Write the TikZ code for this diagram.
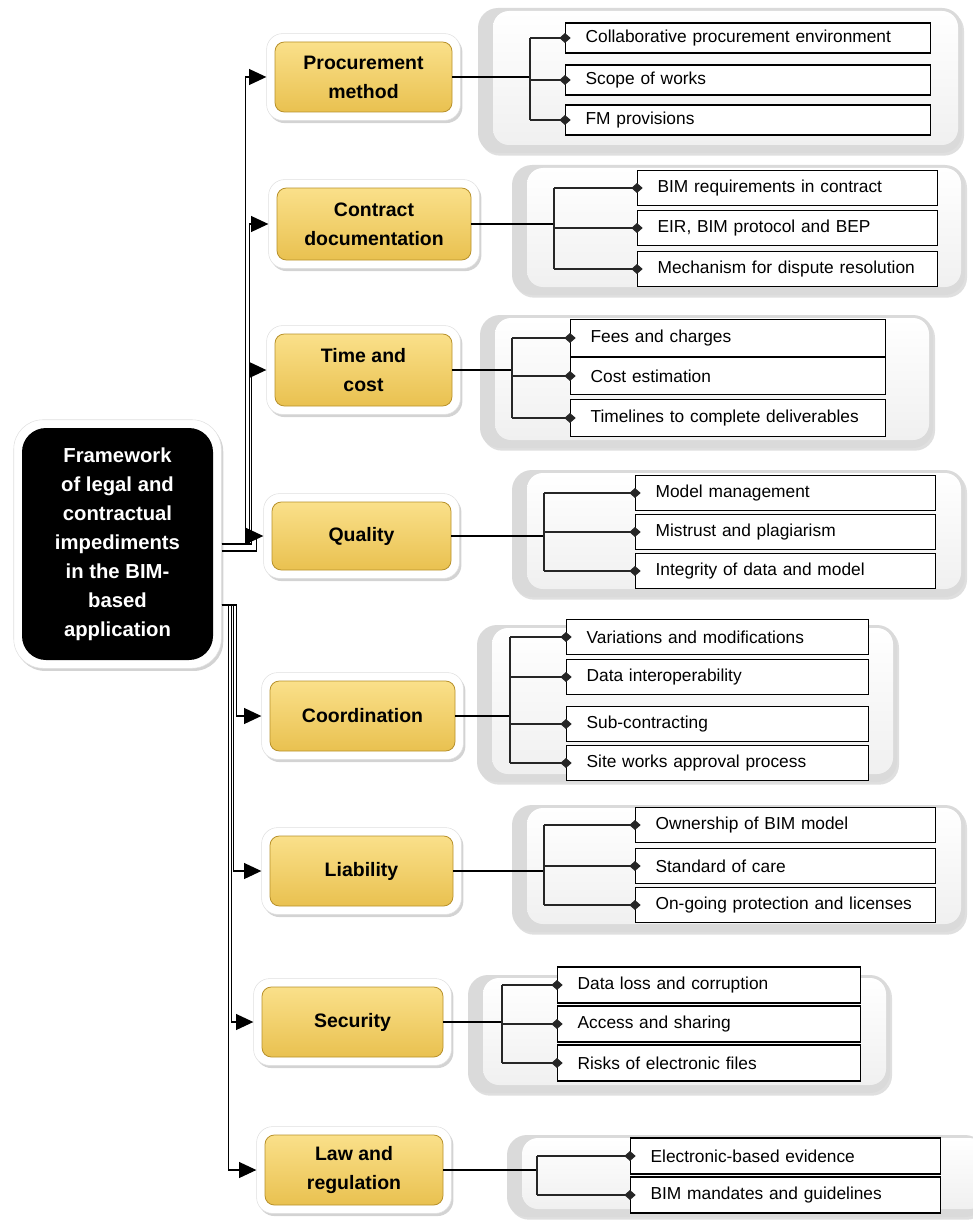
\documentclass[tikz,border=0pt]{standalone}
\usepackage{fontspec}
\setmainfont{Liberation Sans}
\usetikzlibrary{arrows.meta,shadows,fit,backgrounds,calc}
\definecolor{yelT}{HTML}{FAE08A}
\definecolor{yelM}{HTML}{F6D466}
\definecolor{yelB}{HTML}{E9C150}
\definecolor{yelD}{HTML}{B8912B}
\definecolor{grpE}{HTML}{DADADA}
\definecolor{grpI}{HTML}{F0F0F0}
\newcommand\catfont{\fontsize{14.6pt}{21.75pt}\selectfont\bfseries}
\newcommand\itemfont{\fontsize{13pt}{15pt}\selectfont}
\newcommand\rootfont{\fontsize{15.2pt}{21.75pt}\selectfont\bfseries}
\begin{document}
\begin{tikzpicture}[x=0.75pt,y=-0.75pt,
  cat/.style={draw=yelD, line width=0.6pt, rounded corners=7pt, top color=yelT, middle color=yelM, bottom color=yelB, align=center, font=\catfont, inner sep=0pt},
  frm/.style={fill=white, draw=black!12, line width=0.4pt, rounded corners=12pt, inner sep=6pt, drop shadow={opacity=0.35, shadow xshift=1.5pt, shadow yshift=-2pt}},
  rootbox/.style={fill=black, rounded corners=18pt, align=center, text=white, font=\rootfont, inner sep=0pt, minimum width=143.25pt, minimum height=174pt},
  item/.style={draw=black, line width=0.9pt, fill=white, anchor=west, inner xsep=15pt, inner ysep=0pt, align=left, font=\itemfont},
  grpo/.style={fill=grpE, rounded corners=15pt, drop shadow={opacity=0.25, shadow xshift=1.5pt, shadow yshift=-2pt}},
  grpi/.style={top color=white, bottom color=grpI, rounded corners=12pt},
  conn/.style={line width=0.9pt, -{Triangle[length=13pt,width=12pt]}},
  mainline/.style={line width=1.4pt},
  brk/.style={line width=0.9pt, draw=black!85},
  dia/.style={line width=0.9pt, draw=black!85, -{Diamond[length=8.5pt,width=7.5pt]}, shorten >=-4.25pt},
  g1/.style={text width=243.75pt, minimum height=22.5pt},
  g2/.style={text width=195pt, minimum height=26.25pt},
  g3/.style={text width=206.25pt, minimum height=27.75pt},
  g4/.style={text width=195pt, minimum height=26.25pt},
  g5/.style={text width=196.5pt, minimum height=26.25pt},
  g6/.style={text width=195pt, minimum height=26.25pt},
  g7/.style={text width=197.25pt, minimum height=27pt},
  g8/.style={text width=202.5pt, minimum height=27pt}
]
\useasboundingbox (0,0) rectangle (972,1220);

% group panels
\path[grpo] (478,8) rectangle (962,153);
\path[grpi] (493,11) rectangle (958,145);
\path[grpo] (512,165) rectangle (965,295);
\path[grpi] (527,168) rectangle (961,287);
\path[grpo] (480,315) rectangle (933,448);
\path[grpi] (495,318) rectangle (929,440);
\path[grpo] (512,470) rectangle (965,597);
\path[grpi] (527,473) rectangle (961,589);
\path[grpo] (477,625) rectangle (897,782);
\path[grpi] (492,628) rectangle (893,774);
\path[grpo] (512,805) rectangle (965,932);
\path[grpi] (527,808) rectangle (961,924);
\path[grpo] (468,975) rectangle (890,1093);
\path[grpi] (483,978) rectangle (886,1085);
\path[grpo] (507,1135) rectangle (985,1217);
\path[grpi] (522,1138) rectangle (985,1209);

% root
\node[rootbox] (root) at (117.5,544) {Framework\\of legal and\\contractual\\impediments\\in the BIM-\\based\\application};

% categories
\node[cat, minimum width=132.75pt, minimum height=52.5pt] (c1) at (363.5,77) {Procurement\\method};
\node[cat, minimum width=145.5pt, minimum height=54pt] (c2) at (374,224) {Contract\\documentation};
\node[cat, minimum width=132.75pt, minimum height=54pt] (c3) at (363.5,370) {Time and\\cost};
\node[cat, minimum width=134.25pt, minimum height=51pt] (c4) at (361.5,536) {Quality};
\node[cat, minimum width=138.75pt, minimum height=52.5pt] (c5) at (362.5,716) {Coordination};
\node[cat, minimum width=137.25pt, minimum height=52.5pt] (c6) at (361.5,871) {Liability};
\node[cat, minimum width=135.75pt, minimum height=52.5pt] (c7) at (352.5,1022) {Security};
\node[cat, minimum width=133.5pt, minimum height=52.5pt] (c8) at (354,1170) {Law and\\regulation};

\begin{scope}[on background layer]
  \node[frm, rounded corners=22pt, fit=(root)] (rootf) {};
  \foreach \c in {c1,c2,c3,c4,c5,c6,c7,c8}
    \node[frm, fit=(\c)] (\c f) {};
\end{scope}

% items
\node[item,g1] (i11) at (565,38) {Collaborative procurement environment};
\node[item,g1] (i12) at (565,80) {Scope of works};
\node[item,g1] (i13) at (565,120) {FM provisions};

\node[item,g2] (i21) at (637,188) {BIM requirements in contract};
\node[item,g2] (i22) at (637,228) {EIR, BIM protocol and BEP};
\node[item,g2] (i23) at (637,269) {Mechanism for dispute resolution};

\node[item,g3] (i31) at (570,338) {Fees and charges};
\node[item,g3] (i32) at (570,376) {Cost estimation};
\node[item,g3] (i33) at (570,418) {Timelines to complete deliverables};

\node[item,g4] (i41) at (635,493) {Model management};
\node[item,g4] (i42) at (635,532) {Mistrust and plagiarism};
\node[item,g4] (i43) at (635,571) {Integrity of data and model};

\node[item,g5] (i51) at (566,637) {Variations and modifications};
\node[item,g5] (i52) at (566,677) {Data interoperability};
\node[item,g5] (i53) at (566,724) {Sub-contracting};
\node[item,g5] (i54) at (566,763) {Site works approval process};

\node[item,g6] (i61) at (635,825) {Ownership of BIM model};
\node[item,g6] (i62) at (635,866) {Standard of care};
\node[item,g6] (i63) at (635,905) {On-going protection and licenses};

\node[item,g7] (i71) at (557,985) {Data loss and corruption};
\node[item,g7] (i72) at (557,1024) {Access and sharing};
\node[item,g7] (i73) at (557,1063) {Risks of electronic files};

\node[item,g8] (i81) at (630,1156) {Electronic-based evidence};
\node[item,g8] (i82) at (630,1195) {BIM mandates and guidelines};

% root connectors
\draw[conn] (rootf.east) -- ++(24,0) |- (c1f.west);
\draw[conn] (rootf.east) -- ++(28,0) |- (c2f.west);
\draw[conn] (rootf.east) -- ++(30,0) |- (c3f.west);
\draw[conn] ($(rootf.east)+(0,7)$) -- ++(35,0) |- (c4f.west);
\draw[conn] ($(rootf.east)+(0,61)$) -- ++(15,0) |- (c5f.west);
\draw[conn] ($(rootf.east)+(0,61)$) -- ++(12,0) |- (c6f.west);
\draw[conn] ($(rootf.east)+(0,61)$) -- ++(10,0) |- (c7f.west);
\draw[conn] ($(rootf.east)+(0,61)$) -- ++(7,0) |- (c8f.west);

% brackets
\coordinate (k1) at (530,0);
\coordinate (k2) at (554,0);
\coordinate (k3) at (512,0);
\coordinate (k4) at (544,0);
\coordinate (k5) at (510,0);
\coordinate (k6) at (544,0);
\coordinate (k7) at (502,0);
\coordinate (k8) at (537,0);

\draw[mainline] (c1.east) -- (c1.east -| k1);
\draw[mainline] (c2.east) -- (c2.east -| k2);
\draw[mainline] (c3.east) -- (c3.east -| k3);
\draw[mainline] (c4.east) -- (c4.east -| k4);
\draw[mainline, line width=2.2pt] (c5.east) -- (c5.east -| k5);
\draw[mainline] (c6.east) -- (c6.east -| k6);
\draw[mainline] (c7.east) -- (c7.east -| k7);
\draw[mainline] (c8.east) -- (c8.east -| k8);

\draw[brk] (k1 |- i11.west) -- (k1 |- i13.west);
\draw[brk] (k2 |- i21.west) -- (k2 |- i23.west);
\draw[brk] (k3 |- i31.west) -- (k3 |- i33.west);
\draw[brk] (k4 |- i41.west) -- (k4 |- i43.west);
\draw[brk] (k5 |- i51.west) -- (k5 |- i54.west);
\draw[brk] (k6 |- i61.west) -- (k6 |- i63.west);
\draw[brk] (k7 |- i71.west) -- (k7 |- i73.west);
\draw[brk] (k8 |- i81.west) -- (k8 |- i82.west);

\foreach \i in {i11,i12,i13} \draw[dia] (k1 |- \i.west) -- (\i.west);
\foreach \i in {i21,i22,i23} \draw[dia] (k2 |- \i.west) -- (\i.west);
\foreach \i in {i31,i32,i33} \draw[dia] (k3 |- \i.west) -- (\i.west);
\foreach \i in {i41,i42,i43} \draw[dia] (k4 |- \i.west) -- (\i.west);
\foreach \i in {i51,i52,i53,i54} \draw[dia] (k5 |- \i.west) -- (\i.west);
\foreach \i in {i61,i62,i63} \draw[dia] (k6 |- \i.west) -- (\i.west);
\foreach \i in {i71,i72,i73} \draw[dia] (k7 |- \i.west) -- (\i.west);
\foreach \i in {i81,i82} \draw[dia] (k8 |- \i.west) -- (\i.west);
\end{tikzpicture}
\end{document}
